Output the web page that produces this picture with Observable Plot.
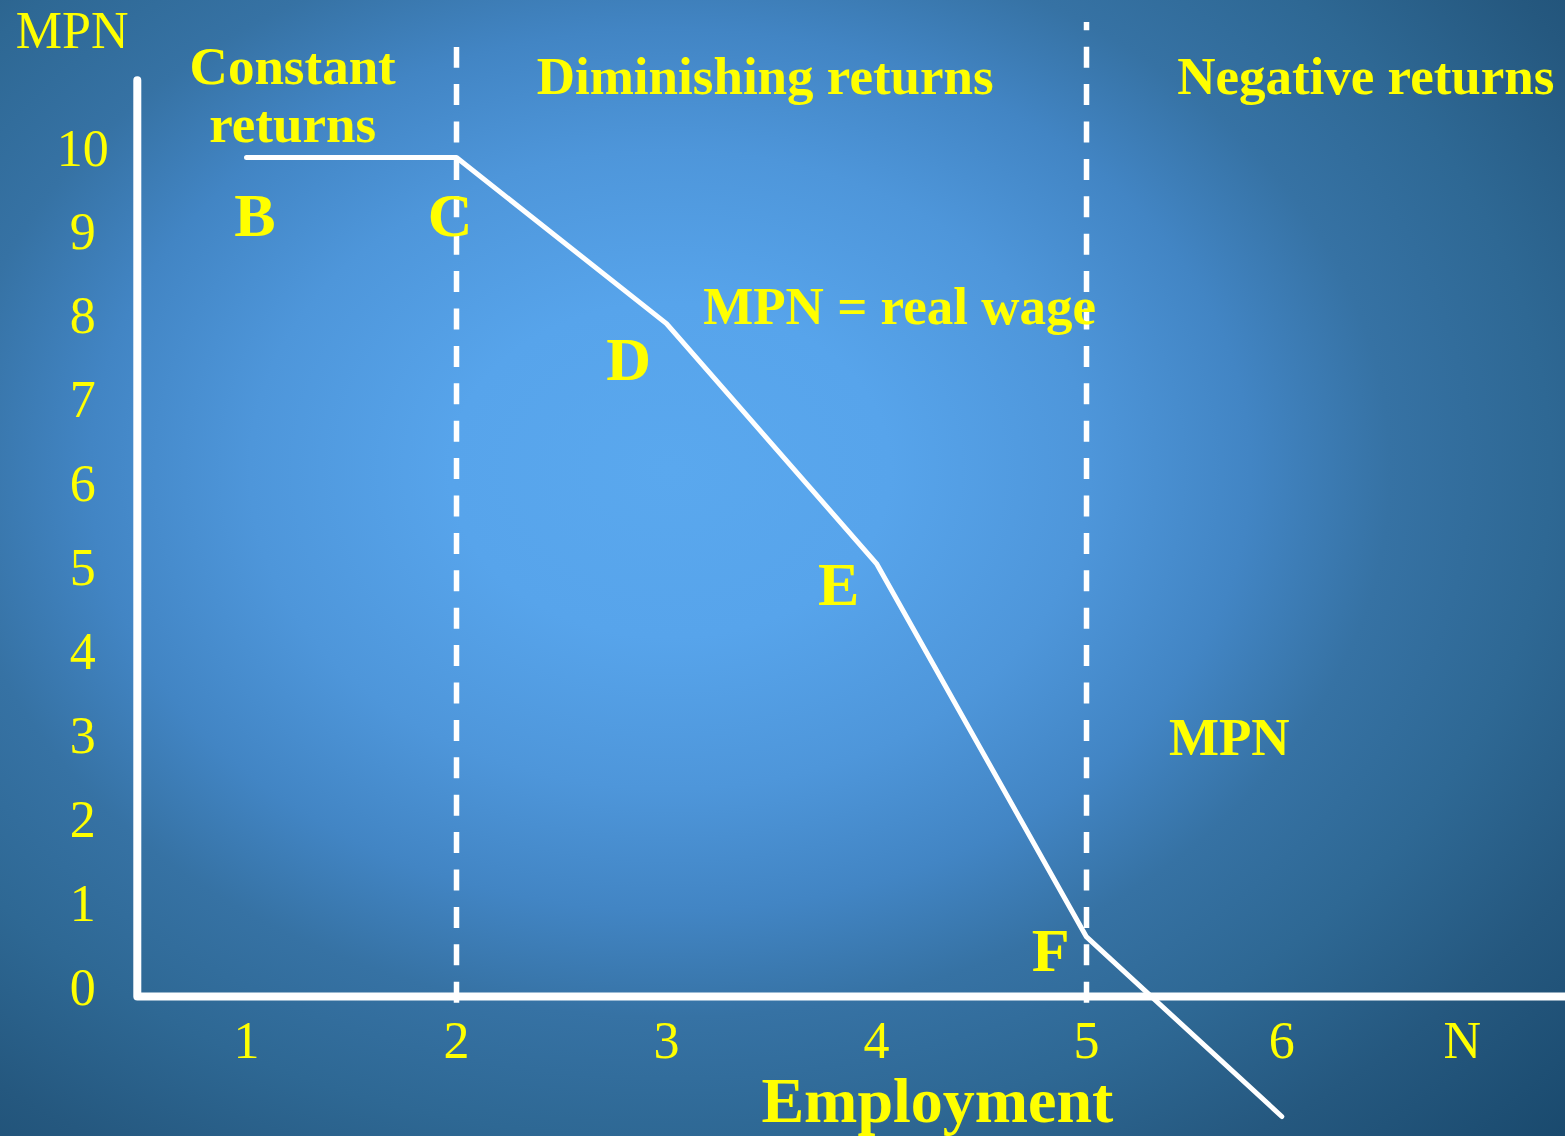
<!DOCTYPE html>
<html>
<head>
<meta charset="utf-8">
<script src="https://cdn.jsdelivr.net/npm/d3@7"></script>
<script src="https://cdn.jsdelivr.net/npm/@observablehq/plot@0.6"></script>
<style>
  html, body { margin: 0; padding: 0; }
  body {
    width: 1565px; height: 1136px; overflow: hidden;
    background: radial-gradient(ellipse 1000px 760px at 670px 470px,
      #5aa8ee 0%, #57a4eb 22%, #4e96da 42%, #4285c4 58%, #3672a4 72%, #2e6894 88%, #25587f 105%, #1a4a6e 125%);
  }
  svg { display: block; background: transparent !important; }
</style>
</head>
<body>
<div id="chart"></div>
<script>
// Curve: MPN by employment level (points B..F, then beyond)
const employment = [1, 2, 3, 4, 5, 5.93];
const mpn = [10, 10, 8.02, 5.16, 0.71, -1.43];

// Axis ticks
const yTicks = [0, 1, 2, 3, 4, 5, 6, 7, 8, 9, 10];
const xTickPos = [1, 2, 3, 4, 5, 5.93, 6.79];
const xTickLabels = ["1", "2", "3", "4", "5", "6", "N"];

// Region boundaries (dashed)
const boundaries = [2, 5];
const boundaryTops = [11.31, 11.61];

// Annotations
const labelText = ["Constant\nreturns", "Diminishing returns", "Negative returns", "B", "C", "D", "E", "F", "MPN = real wage", "MPN"];
const labelX = [1.22, 3.47, 6.33, 1.04, 1.97, 2.82, 3.82, 4.83, 4.11, 5.68];
const labelY = [10.19, 10.76, 10.76, 9.06, 9.06, 7.35, 4.67, 0.30, 8.02, 2.88];
const labelSize = [53, 53, 53, 62, 62, 62, 62, 62, 53, 53];

const axisOrigin = 0.48, axisTop = 10.92, axisRight = 7.4;

const curve = employment.map((x, i) => ({x, y: mpn[i]}));
const labels = labelText.map((t, i) => ({t, x: labelX[i], y: labelY[i], s: labelSize[i]}));
const xt = xTickPos.map((x, i) => ({x, t: xTickLabels[i]}));
const bnd = boundaries.map((x, i) => ({x, top: boundaryTops[i]}));

const FONT = "Liberation Serif, Times New Roman, serif";
const YEL = "#ffff00";

const chart = Plot.plot({
  width: 1565,
  height: 1136,
  margin: 0,
  style: {background: "transparent", fontFamily: FONT},
  x: {domain: [1, 5], range: [246, 1086]},
  y: {domain: [0, 10], range: [996, 157]},
  axis: null,
  marks: [
    // dashed region boundaries
    Plot.ruleX(bnd, {x: "x", y1: -0.08, y2: "top", stroke: "white", strokeWidth: 5.5,
      strokeDasharray: "21,16.4", strokeDashoffset: (d) => d.x === 5 ? 11 : 0}),
    // axes
    Plot.line([{x: axisOrigin, y: axisTop}, {x: axisOrigin, y: 0}, {x: axisRight, y: 0}],
      {x: "x", y: "y", stroke: "white", strokeWidth: 8, strokeLinejoin: "round", strokeLinecap: "round"}),
    // MPN curve
    Plot.line(curve, {x: "x", y: "y", stroke: "white", strokeWidth: 5, strokeLinejoin: "miter"}),
    // y tick labels
    Plot.text(yTicks, {x: 0.22, y: (d) => d, text: (d) => String(d), fill: YEL, fontSize: 52,
      lineAnchor: "bottom", dy: 8, fontFamily: FONT}),
    // x tick labels
    Plot.text(xt, {x: "x", y: -0.73, text: "t", fill: YEL, fontSize: 52, lineAnchor: "bottom", fontFamily: FONT}),
    // axis titles
    Plot.text(["MPN"], {x: 0.17, y: 11.31, text: (d) => d, fill: YEL, fontSize: 52, lineAnchor: "bottom", fontFamily: FONT}),
    Plot.text(["Employment"], {x: 4.29, y: -1.5, text: (d) => d, fill: YEL, fontSize: 64, fontWeight: "bold",
      lineAnchor: "bottom", fontFamily: FONT}),
    // annotations
    Plot.text(labels, {x: "x", y: "y", text: "t", fill: YEL, fontSize: "s", fontWeight: "bold",
      lineAnchor: "bottom", lineHeight: 1.09, fontFamily: FONT})
  ]
});
document.getElementById("chart").appendChild(chart);
</script>
</body>
</html>
